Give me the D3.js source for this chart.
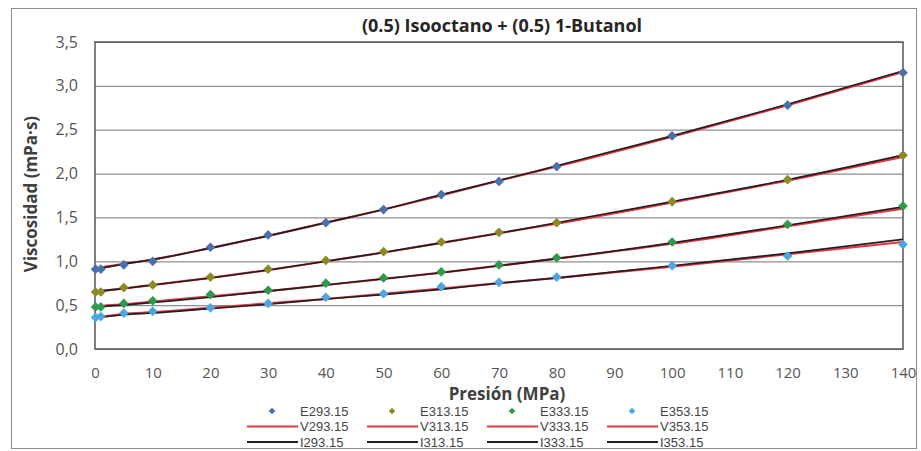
<!DOCTYPE html>
<html>
<head>
<meta charset="utf-8">
<script src="https://cdn.jsdelivr.net/npm/d3@7"></script>
<style>
  body { margin: 0; background: #fff; }
  text { font-family: 'Open Sans', 'Liberation Sans', sans-serif; }
  .legend text { font-family: 'Liberation Sans', sans-serif; }
</style>
</head>
<body>
<svg id="chart"></svg>
<script>
// Pressures (MPa) at which every series was measured / computed
const presion = [0.1, 1, 5, 10, 20, 30, 40, 50, 60, 70, 80, 100, 120, 140];

// Experimental viscosities (mPa·s)
const e293 = [0.91, 0.91, 0.96, 1.00, 1.16, 1.30, 1.44, 1.59, 1.76, 1.91, 2.08, 2.43, 2.78, 3.15];
const e313 = [0.65, 0.65, 0.70, 0.73, 0.82, 0.91, 1.01, 1.11, 1.22, 1.33, 1.44, 1.68, 1.93, 2.21];
const e333 = [0.48, 0.48, 0.52, 0.55, 0.62, 0.67, 0.75, 0.81, 0.88, 0.96, 1.04, 1.22, 1.42, 1.63];
const e353 = [0.36, 0.37, 0.41, 0.43, 0.47, 0.52, 0.59, 0.63, 0.71, 0.76, 0.82, 0.95, 1.06, 1.19];

// Model V (red lines)
const v293 = [0.92, 0.93, 0.97, 1.02, 1.15, 1.29, 1.44, 1.59, 1.75, 1.92, 2.08, 2.42, 2.78, 3.16];
const v313 = [0.65, 0.66, 0.69, 0.73, 0.81, 0.90, 1.00, 1.10, 1.21, 1.32, 1.43, 1.67, 1.92, 2.19];
const v333 = [0.48, 0.49, 0.51, 0.54, 0.60, 0.66, 0.73, 0.80, 0.87, 0.95, 1.03, 1.20, 1.40, 1.60];
const v353 = [0.37, 0.37, 0.40, 0.42, 0.47, 0.52, 0.57, 0.63, 0.69, 0.75, 0.81, 0.94, 1.08, 1.22];

// Model I (black lines)
const i293 = [0.91, 0.92, 0.97, 1.02, 1.15, 1.29, 1.44, 1.59, 1.76, 1.92, 2.09, 2.43, 2.79, 3.17];
const i313 = [0.65, 0.66, 0.69, 0.73, 0.81, 0.90, 1.00, 1.10, 1.21, 1.32, 1.44, 1.68, 1.93, 2.21];
const i333 = [0.47, 0.48, 0.50, 0.53, 0.59, 0.66, 0.73, 0.80, 0.87, 0.95, 1.03, 1.21, 1.41, 1.62];
const i353 = [0.35, 0.36, 0.39, 0.41, 0.46, 0.51, 0.57, 0.62, 0.68, 0.75, 0.81, 0.95, 1.09, 1.25];

const temps = ['293.15', '313.15', '333.15', '353.15'];
const expColors = ['#4a70ab', '#8a8a26', '#2f9a4e', '#4da6e2'];
const xTicks = [0, 10, 20, 30, 40, 50, 60, 70, 80, 90, 100, 110, 120, 130, 140];
const yTicks = [0, 0.5, 1, 1.5, 2, 2.5, 3, 3.5];

const expSeries = [e293, e313, e333, e353];
const vSeries = [v293, v313, v333, v353];
const iSeries = [i293, i313, i333, i353];

const width = 921;
const height = 451;
const margin = {top: 42, right: 18, bottom: 102, left: 95};

const svg = d3.select('#chart')
  .attr('width', width)
  .attr('height', height);

// outer chart frame
svg.append('rect')
  .attr('x', 11.5).attr('y', 8.5)
  .attr('width', 905).attr('height', 440)
  .attr('fill', 'none')
  .attr('stroke', '#8c8c8c');

const x = d3.scaleLinear()
  .domain([0, 140])
  .range([margin.left, width - margin.right]);

const y = d3.scaleLinear()
  .domain([0, 3.5])
  .range([height - margin.bottom, margin.top]);

const comma = d3.formatLocale({decimal: ',', thousands: '.', grouping: [3], currency: ['', '']}).format('.1f');

// gridlines
const yAxis = d3.axisLeft(y)
  .tickValues(yTicks)
  .tickSize(-(x(140) - x(0)))
  .tickPadding(17)
  .tickFormat(comma);

const axisY = svg.append('g')
  .attr('class', 'y axis')
  .attr('transform', `translate(${x(0)}, 0)`)
  .call(yAxis);
axisY.select('.domain').remove();
axisY.selectAll('.tick line').attr('stroke', '#8f8f8f').attr('stroke-width', 1.2);
axisY.selectAll('.tick text')
  .attr('fill', '#555')
  .style('font-size', '16px');

const xAxis = d3.axisBottom(x)
  .tickValues(xTicks)
  .tickSize(0)
  .tickPadding(18);

const axisX = svg.append('g')
  .attr('class', 'x axis')
  .attr('transform', `translate(0, ${y(0)})`)
  .call(xAxis);
axisX.select('.domain').remove();
axisX.selectAll('.tick text')
  .attr('fill', '#555')
  .style('font-size', '15px');

// plot frame
svg.append('rect')
  .attr('x', x(0)).attr('y', y(3.5))
  .attr('width', x(140) - x(0))
  .attr('height', y(0) - y(3.5))
  .attr('fill', 'none')
  .attr('stroke', '#555')
  .attr('stroke-width', 1.5);

const line = d3.line()
  .x((d, i) => x(presion[i]))
  .y(d => y(d))
  .curve(d3.curveMonotoneX);

// red model lines then black model lines
vSeries.forEach(s => {
  svg.append('path')
    .datum(s)
    .attr('fill', 'none')
    .attr('stroke', '#e8333a')
    .attr('stroke-width', 2.2)
    .attr('d', line);
});
iSeries.forEach(s => {
  svg.append('path')
    .datum(s)
    .attr('fill', 'none')
    .attr('stroke', '#1f1f24')
    .attr('stroke-width', 1.6)
    .attr('d', line);
});

const diamond = d3.symbol().type(d3.symbolDiamond2);

// experimental markers
expSeries.forEach((s, k) => {
  svg.append('g')
    .selectAll('path')
    .data(s)
    .join('path')
    .attr('transform', (d, i) => `translate(${x(presion[i])}, ${y(d)})`)
    .attr('d', diamond.size(60))
    .attr('fill', expColors[k]);
});

// title
svg.append('text')
  .attr('x', 502).attr('y', 32)
  .attr('text-anchor', 'middle')
  .style('font-size', '18px')
  .style('font-weight', 700)
  .attr('fill', '#262626')
  .text('(0.5) Isooctano + (0.5) 1-Butanol');

// axis titles
svg.append('text')
  .attr('transform', 'translate(37, 194) rotate(-90)')
  .attr('text-anchor', 'middle')
  .style('font-size', '17px')
  .style('font-weight', 700)
  .attr('fill', '#404040')
  .text('Viscosidad (mPa·s)');

svg.append('text')
  .attr('x', 507).attr('y', 400)
  .attr('text-anchor', 'middle')
  .style('font-size', '17px')
  .style('font-weight', 700)
  .attr('fill', '#404040')
  .text('Presión (MPa)');

// legend
const legend = svg.append('g').attr('class', 'legend');
temps.forEach((t, k) => {
  const x0 = 247 + k * 120;
  const g = legend.append('g').attr('transform', `translate(${x0}, 0)`);
  g.append('path')
    .attr('transform', 'translate(25, 411)')
    .attr('d', diamond.size(28))
    .attr('fill', expColors[k]);
  g.append('line')
    .attr('x1', 0).attr('x2', 51)
    .attr('y1', 426.5).attr('y2', 426.5)
    .attr('stroke', '#e8333a').attr('stroke-width', 2.2);
  g.append('line')
    .attr('x1', 0).attr('x2', 51)
    .attr('y1', 442).attr('y2', 442)
    .attr('stroke', '#1f1f24').attr('stroke-width', 2);
  ['E', 'V', 'I'].forEach((p, r) => {
    g.append('text')
      .attr('x', 53).attr('y', 411 + r * 15.5)
      .attr('dy', '0.35em')
      .style('font-size', '13px')
      .attr('fill', '#444')
      .text(p + t);
  });
});
</script>
</body>
</html>
